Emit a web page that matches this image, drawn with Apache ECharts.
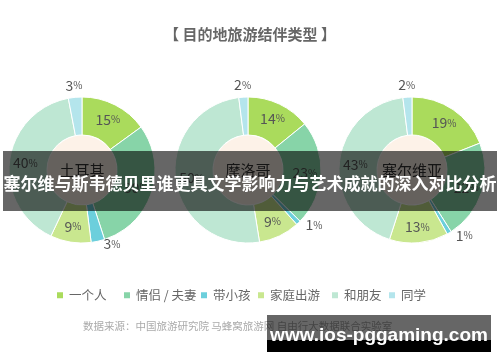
<!DOCTYPE html>
<html><head><meta charset="utf-8">
<script src="https://cdn.jsdelivr.net/npm/echarts@6/dist/echarts.min.js"></script>
<style>html,body{margin:0;padding:0;background:#fff}#c{width:500px;height:362px}</style>
</head><body><div id="c"></div>
<script>
const titleText = '【 目的地旅游结伴类型 】';
const categories = ['一个人', '情侣 / 夫妻', '带小孩', '家庭出游', '和朋友', '同学'];
const countries = ['土耳其', '摩洛哥', '塞尔维亚'];
const turkeyValues = [15, 30, 3, 9, 40, 3];
const moroccoValues = [14, 23, 1, 9, 50, 2];
const serbiaValues = [19, 22, 1, 13, 43, 2];
const sourceText = '数据来源：中国旅游研究院 马蜂窝旅游网 自由行大数据联合实验室';
const bannerText = '塞尔维与斯韦德贝里谁更具文学影响力与艺术成就的深入对比分析';
const watermarkText = 'www.ios-pggaming.com';

const colors = ['#aadb5c', '#87d4a8', '#6ccfdc', '#c9e78f', '#bee7d3', '#b4e5ec'];
const centers = [[82, 170], [248, 170], [412, 170]];
const legendLefts = [55, 122, 199, 256, 330, 387];
const FONT = '"Noto Sans CJK SC", "Noto Sans", sans-serif';

const allValues = [turkeyValues, moroccoValues, serbiaValues];
const series = [];
function outsideLayout(params) {
  const pts = params.labelLinePoints;
  if (!pts) return {};
  const dx = (pts[1][0] - pts[0][0]) / 3, dy = (pts[1][1] - pts[0][1]) / 3;
  if (dx >= 0) return {};
  return { x: pts[0][0] + dx * 12, y: pts[0][1] + dy * 12, align: 'center', verticalAlign: 'middle' };
}
allValues.forEach((vals, k) => {
  series.push({
    type: 'pie', center: centers[k], radius: [35, 73], startAngle: 90,
    silent: true, animation: false,
    itemStyle: { borderColor: '#fff', borderWidth: 1 },
    labelLine: { show: false, length: 3, length2: 0 },
    labelLayout: outsideLayout,
    label: {
      position: 'inside', color: '#555',
      formatter: p => '{n|' + p.value + '}{p|%}',
      rich: { n: { fontSize: 14, color: '#555', fontFamily: FONT }, p: { fontSize: 10, color: '#555', fontFamily: FONT } }
    },
    data: vals.map((v, i) => ({
      name: categories[i], value: v, itemStyle: { color: colors[i] },
      label: v <= 3 ? { position: 'outside' } : undefined
    }))
  });
  series.push({
    type: 'pie', center: centers[k], radius: [0, 34.5], silent: true, animation: false,
    label: { position: 'center', formatter: countries[k], fontSize: 15, color: '#333', fontFamily: FONT },
    labelLine: { show: false },
    data: [{ name: countries[k], value: 1, itemStyle: { color: '#fdf2e8' } }]
  });
});

const legends = categories.map((c, i) => ({
  data: [c], left: legendLefts[i], top: 289, padding: 0, itemWidth: 8, itemHeight: 8, icon: 'rect',
  textStyle: { fontSize: 12.5, color: '#666', fontFamily: FONT }, selectedMode: false
}));

const chart = echarts.init(document.getElementById('c'));
chart.setOption({
  animation: false,
  title: { text: titleText, left: 'center', top: 22, textStyle: { fontSize: 15, fontWeight: 'bold', color: '#666', fontFamily: FONT } },
  legend: legends,
  series: series,
  graphic: [
    { type: 'text', left: 83, top: 321, style: { text: sourceText, fill: '#aaa', fontSize: 10.5, fontFamily: FONT } },
    { type: 'rect', shape: { x: 3, y: 151, width: 494, height: 60 }, style: { fill: 'rgba(0,0,0,0.6)' }, z: 100 },
    { type: 'text', x: 250, y: 184, style: { text: bannerText, fill: '#fff', fontSize: 17, fontWeight: 'bold', fontFamily: FONT, align: 'center', verticalAlign: 'middle' }, z: 101 },
    { type: 'rect', shape: { x: 267, y: 315, width: 224, height: 37 }, style: { fill: 'rgba(0,0,0,0.6)' }, z: 100 },
    { type: 'rect', shape: { x: 267, y: 340, width: 224, height: 12 }, style: { fill: '#000' }, z: 100 },
    { type: 'text', x: 379, y: 336, style: { text: watermarkText, fill: '#fff', fontSize: 19, fontWeight: 'bold', fontFamily: '"Liberation Sans", Arial, sans-serif', align: 'center', verticalAlign: 'middle' }, z: 101 }
  ]
});
</script></body></html>
